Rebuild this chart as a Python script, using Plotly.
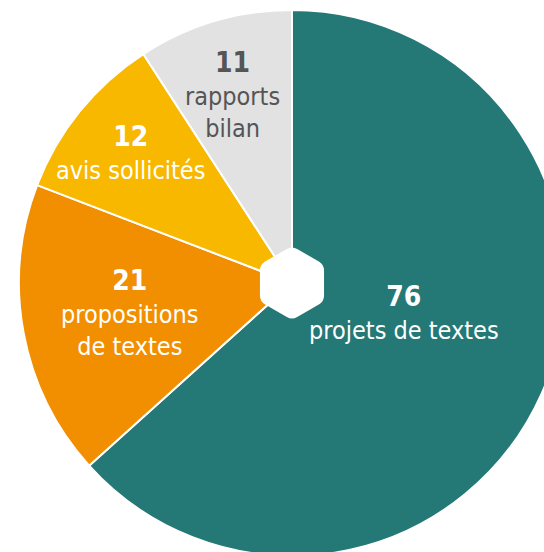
import math
import plotly.graph_objects as go

# Categories and counts, clockwise from 12 o'clock
numbers = [76, 21, 12, 11]
labels = ["projets de textes", "propositions<br>de textes", "avis sollicités", "rapports<br>bilan"]
colors = ["#247875", "#f18f00", "#f9b800", "#e2e2e2"]
text_colors = ["#ffffff", "#ffffff", "#ffffff", "#555555"]

W, H = 600, 600            # figure size in px (the visible page crops it)
CX, CY, R = 292, 283, 273  # pie centre and radius in px

# label block centres in px
label_pos = [(404, 312), (130, 313), (130, 152), (233, 94)]

FONT = "DejaVu Sans Condensed, Liberation Sans Narrow, Roboto, sans-serif"

fig = go.Figure(
    go.Pie(
        values=numbers,
        labels=[l.replace("<br>", " ") for l in labels],
        marker=dict(colors=colors, line=dict(color="white", width=2)),
        sort=False,
        direction="clockwise",
        rotation=0,
        textinfo="none",
        hoverinfo="label+value",
        showlegend=False,
        domain=dict(x=[(CX - R) / W, (CX + R) / W],
                    y=[1 - (CY + R) / H, 1 - (CY - R) / H]),
    )
)

for n, lab, tc, (px, py) in zip(numbers, labels, text_colors, label_pos):
    fig.add_annotation(
        x=px / W, y=1 - py / H, xref="paper", yref="paper",
        text=f"<span style='font-size:28px'><b>{n}</b></span><br>{lab}",
        showarrow=False,
        xanchor="center", yanchor="middle", align="center",
        font=dict(family=FONT, size=25, color=tc),
    )


def toward(a, b, d):
    L = math.hypot(b[0] - a[0], b[1] - a[1])
    return (a[0] + (b[0] - a[0]) * d / L, a[1] + (b[1] - a[1]) * d / L)


# rounded hexagon in the centre
hr, rc = 37, 6
pts = [(CX + hr * math.cos(math.radians(a)), CY + hr * math.sin(math.radians(a)))
       for a in range(-90, 270, 60)]
path = ""
for i in range(6):
    p0, p1, p2 = pts[i - 1], pts[i], pts[(i + 1) % 6]
    s = toward(p1, p0, rc)
    e = toward(p1, p2, rc)
    path += ("M" if i == 0 else "L") + f"{s[0] / W:.5f},{1 - s[1] / H:.5f} "
    path += f"Q{p1[0] / W:.5f},{1 - p1[1] / H:.5f} {e[0] / W:.5f},{1 - e[1] / H:.5f} "
path += "Z"
fig.add_shape(type="path", path=path, xref="paper", yref="paper",
              fillcolor="white", line=dict(width=0), layer="above")

fig.update_layout(
    width=W, height=H,
    margin=dict(l=0, r=0, t=0, b=0),
    paper_bgcolor="white", plot_bgcolor="white",
)

fig.write_html(
    "out.html",
    config={"displayModeBar": False},
    post_script="document.documentElement.style.overflow='hidden';document.body.style.overflow='hidden';document.body.style.margin='0';",
)
